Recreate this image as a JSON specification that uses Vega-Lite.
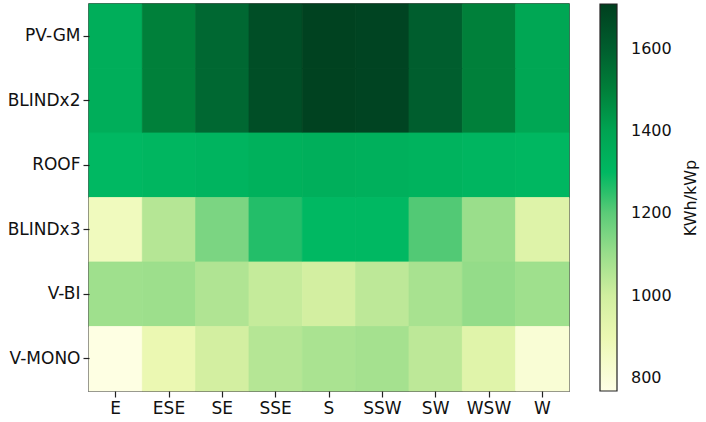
{
  "$schema": "https://vega.github.io/schema/vega-lite/v6.json",
  "width": 480,
  "height": 387,
  "autosize": {"type": "none"},
  "padding": {"left": 89, "top": 4, "right": 137, "bottom": 31},
  "background": "white",
  "config": {
    "font": "DejaVu Sans",
    "view": {"stroke": "#222", "strokeWidth": 1.5},
    "axis": {"labelFont": "DejaVu Sans", "labelFontSize": 17, "labelColor": "#111", "tickColor": "#222", "tickSize": 6, "tickWidth": 1.2, "domain": false, "grid": false, "title": null, "labelPadding": 3},
    "legend": {"labelFont": "DejaVu Sans", "titleFont": "DejaVu Sans"}
  },
  "data": {"values": [
    {"row": "PV-GM", "dir": "E", "v": 1350}, {"row": "PV-GM", "dir": "ESE", "v": 1500}, {"row": "PV-GM", "dir": "SE", "v": 1570}, {"row": "PV-GM", "dir": "SSE", "v": 1655}, {"row": "PV-GM", "dir": "S", "v": 1700}, {"row": "PV-GM", "dir": "SSW", "v": 1690}, {"row": "PV-GM", "dir": "SW", "v": 1600}, {"row": "PV-GM", "dir": "WSW", "v": 1500}, {"row": "PV-GM", "dir": "W", "v": 1385},
    {"row": "BLINDx2", "dir": "E", "v": 1350}, {"row": "BLINDx2", "dir": "ESE", "v": 1500}, {"row": "BLINDx2", "dir": "SE", "v": 1570}, {"row": "BLINDx2", "dir": "SSE", "v": 1655}, {"row": "BLINDx2", "dir": "S", "v": 1700}, {"row": "BLINDx2", "dir": "SSW", "v": 1690}, {"row": "BLINDx2", "dir": "SW", "v": 1600}, {"row": "BLINDx2", "dir": "WSW", "v": 1500}, {"row": "BLINDx2", "dir": "W", "v": 1385},
    {"row": "ROOF", "dir": "E", "v": 1300}, {"row": "ROOF", "dir": "ESE", "v": 1310}, {"row": "ROOF", "dir": "SE", "v": 1320}, {"row": "ROOF", "dir": "SSE", "v": 1335}, {"row": "ROOF", "dir": "S", "v": 1345}, {"row": "ROOF", "dir": "SSW", "v": 1340}, {"row": "ROOF", "dir": "SW", "v": 1325}, {"row": "ROOF", "dir": "WSW", "v": 1315}, {"row": "ROOF", "dir": "W", "v": 1305},
    {"row": "BLINDx3", "dir": "E", "v": 870}, {"row": "BLINDx3", "dir": "ESE", "v": 1050}, {"row": "BLINDx3", "dir": "SE", "v": 1150}, {"row": "BLINDx3", "dir": "SSE", "v": 1260}, {"row": "BLINDx3", "dir": "S", "v": 1300}, {"row": "BLINDx3", "dir": "SSW", "v": 1300}, {"row": "BLINDx3", "dir": "SW", "v": 1210}, {"row": "BLINDx3", "dir": "WSW", "v": 1100}, {"row": "BLINDx3", "dir": "W", "v": 950},
    {"row": "V-BI", "dir": "E", "v": 1090}, {"row": "V-BI", "dir": "ESE", "v": 1095}, {"row": "V-BI", "dir": "SE", "v": 1060}, {"row": "V-BI", "dir": "SSE", "v": 1020}, {"row": "V-BI", "dir": "S", "v": 990}, {"row": "V-BI", "dir": "SSW", "v": 1035}, {"row": "V-BI", "dir": "SW", "v": 1075}, {"row": "V-BI", "dir": "WSW", "v": 1110}, {"row": "V-BI", "dir": "W", "v": 1090},
    {"row": "V-MONO", "dir": "E", "v": 775}, {"row": "V-MONO", "dir": "ESE", "v": 900}, {"row": "V-MONO", "dir": "SE", "v": 990}, {"row": "V-MONO", "dir": "SSE", "v": 1050}, {"row": "V-MONO", "dir": "S", "v": 1070}, {"row": "V-MONO", "dir": "SSW", "v": 1080}, {"row": "V-MONO", "dir": "SW", "v": 1035}, {"row": "V-MONO", "dir": "WSW", "v": 940}, {"row": "V-MONO", "dir": "W", "v": 810}
  ]},
  "mark": {"type": "rect", "stroke": {"expr": "scale('color', datum.v)"}, "strokeWidth": 0.8},
  "encoding": {
    "x": {"field": "dir", "type": "nominal", "sort": ["E", "ESE", "SE", "SSE", "S", "SSW", "SW", "WSW", "W"], "scale": {"paddingInner": 0, "paddingOuter": 0}, "axis": {"labelAngle": 0}},
    "y": {"field": "row", "type": "nominal", "sort": ["PV-GM", "BLINDx2", "ROOF", "BLINDx3", "V-BI", "V-MONO"], "scale": {"paddingInner": 0, "paddingOuter": 0}},
    "color": {
      "field": "v", "type": "quantitative",
      "scale": {
        "domain": [768, 900, 1000, 1100, 1200, 1250, 1300, 1400, 1500, 1600, 1709],
        "range": ["#ffffe6", "#ebf8b2", "#d0ee9f", "#9ade8b", "#5ccb78", "#2cc06b", "#00b862", "#00a452", "#00803a", "#005e2e", "#003f1f"],
        "interpolate": "rgb"
      },
      "legend": {
        "type": "gradient",
        "title": "KWh/kWp",
        "orient": "right",
        "offset": 31,
        "direction": "vertical",
        "format": "d",
        "gradientLength": 387,
        "gradientThickness": 17,
        "gradientStrokeColor": "#222",
        "gradientStrokeWidth": 1.2,
        "values": [800, 1000, 1200, 1400, 1600],
        "labelFontSize": 16,
        "labelColor": "#111",
        "labelOffset": 14,
        "labelOverlap": false,
        "titleOrient": "right",
        "titleFontSize": 16,
        "titleFontWeight": "normal",
        "titleColor": "#111",
        "titleAnchor": "middle",
        "titlePadding": 14,
        "padding": 0,
        "encode": {"title": {"update": {"angle": {"value": 270}, "dy": {"value": 13}}}}
      }
    }
  }
}
